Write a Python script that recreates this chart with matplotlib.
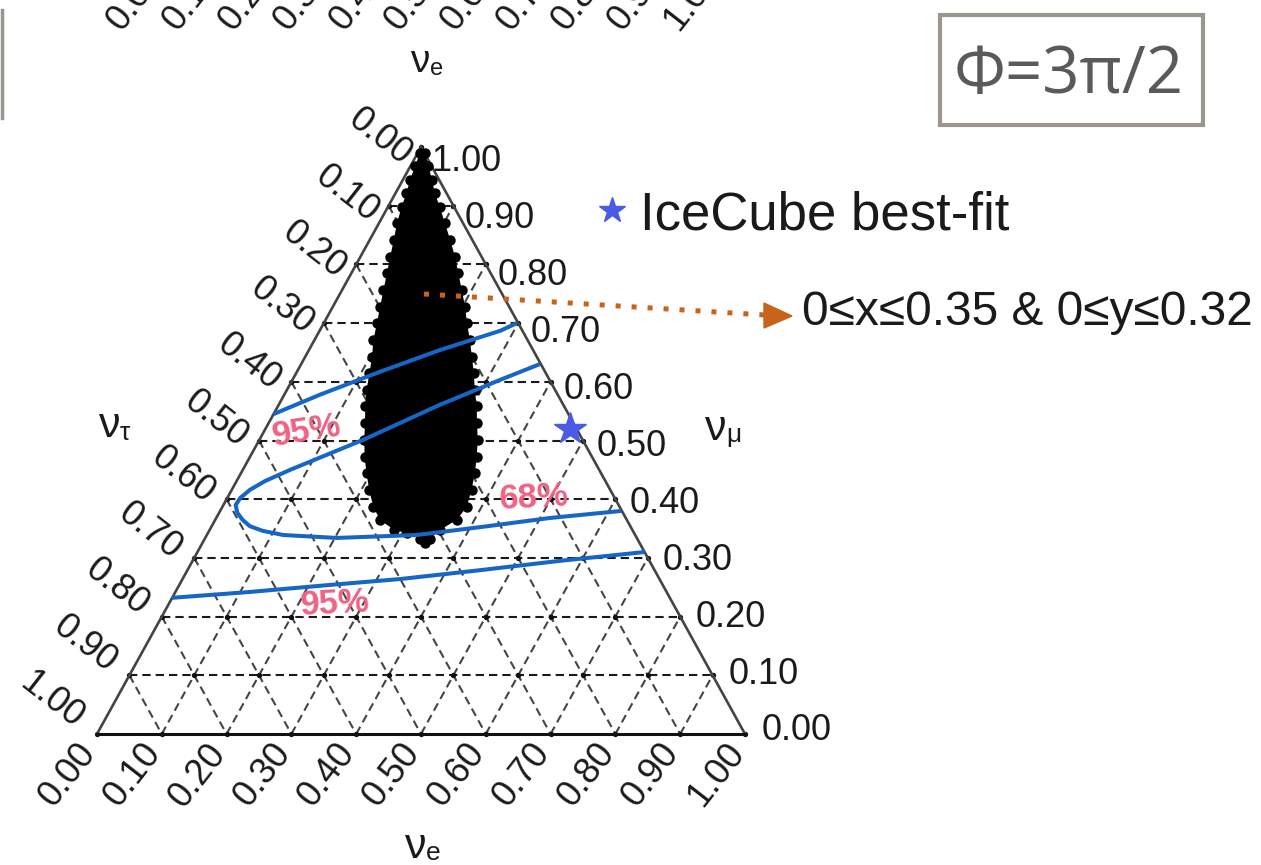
import matplotlib
matplotlib.use("Agg")
import matplotlib.pyplot as plt
from matplotlib.patches import Polygon, Rectangle
import numpy as np

plt.rcParams['font.family'] = ['Liberation Sans', 'DejaVu Sans']

# ---------------- data: flavour fractions (e = nu_e, mu = nu_mu, tau = 1 - e - mu) ----
tick_values = [0.0, 0.1, 0.2, 0.3, 0.4, 0.5, 0.6, 0.7, 0.8, 0.9, 1.0]
tick_labels = ["0.00", "0.10", "0.20", "0.30", "0.40", "0.50",
               "0.60", "0.70", "0.80", "0.90", "1.00"]

# outline of the allowed region of the scan (closed loop)
allowed_e = [0.003, 0.0075, 0.011, 0.017, 0.021, 0.028, 0.037, 0.046, 0.055, 0.064,
             0.073, 0.082, 0.091, 0.103, 0.113, 0.123, 0.135, 0.149, 0.162, 0.177,
             0.194, 0.212, 0.233, 0.254, 0.284, 0.307, 0.332, 0.344,
             0.347, 0.356, 0.373, 0.377, 0.370, 0.361, 0.350, 0.337, 0.322, 0.307,
             0.290, 0.274, 0.257, 0.240, 0.221, 0.204, 0.185, 0.165, 0.146, 0.124,
             0.102, 0.080, 0.061, 0.045, 0.028, 0.011]
allowed_mu = [0.990, 0.967, 0.944, 0.921, 0.898, 0.870, 0.842, 0.813, 0.785, 0.756,
              0.728, 0.700, 0.671, 0.643, 0.615, 0.586, 0.558, 0.529, 0.501, 0.472,
              0.444, 0.416, 0.387, 0.365, 0.348, 0.342, 0.333, 0.325,
              0.333, 0.348, 0.365, 0.387, 0.416, 0.444, 0.472, 0.501, 0.529, 0.558,
              0.586, 0.615, 0.643, 0.671, 0.700, 0.728, 0.756, 0.785, 0.813, 0.842,
              0.870, 0.898, 0.921, 0.944, 0.967, 0.990]

# IceCube confidence contours
cl95_upper_e = [0.000, 0.055, 0.128, 0.202, 0.279, 0.298]
cl95_upper_mu = [0.545, 0.578, 0.617, 0.654, 0.687, 0.700]

cl68_e = [0.368, 0.320, 0.249, 0.160, 0.073, 0.044, 0.028, 0.020, 0.019, 0.028,
          0.042, 0.059, 0.083, 0.118, 0.203, 0.324, 0.419, 0.515, 0.619]
cl68_mu = [0.630, 0.603, 0.561, 0.501, 0.450, 0.431, 0.416, 0.402, 0.390, 0.377,
           0.365, 0.354, 0.346, 0.339, 0.334, 0.339, 0.353, 0.368, 0.380]

cl95_lower_e = [0.000, 0.115, 0.233, 0.336, 0.451, 0.567, 0.690]
cl95_lower_mu = [0.232, 0.242, 0.254, 0.264, 0.279, 0.295, 0.310]

icecube_best_e = 0.47
icecube_best_mu = 0.52

# ---------------- figure & ternary geometry (pixel frame) ----------------
W, H = 1261, 865
fig = plt.figure(figsize=(W / 100, H / 100), dpi=100)
ax = fig.add_axes([0, 0, 1, 1])
ax.set_xlim(0, W)
ax.set_ylim(H, 0)
ax.axis('off')

V_TAU = (97.0, 734.0)    # tau = 1 corner
V_E = (745.0, 734.0)     # e = 1 corner
V_MU = (421.0, 147.0)    # mu = 1 corner


def to_xy(e, mu):
    e = np.asarray(e, float)
    mu = np.asarray(mu, float)
    tau = 1.0 - e - mu
    x = tau * V_TAU[0] + e * V_E[0] + mu * V_MU[0]
    y = tau * V_TAU[1] + e * V_E[1] + mu * V_MU[1]
    return x, y


grid_kw = dict(lw=1.5, zorder=1)
dash = (0, (4.0, 2.4))
for v in tick_values[1:-1]:
    # constant mu (horizontal)
    x, y = to_xy([0, 1 - v], [v, v])
    ax.plot(x, y, color='#1a1a1a', linestyle=dash, **grid_kw)
    # constant e
    x, y = to_xy([v, v], [0, 1 - v])
    ax.plot(x, y, color='#444444', linestyle=dash, **grid_kw)
    # constant tau
    x, y = to_xy([0, 1 - v], [1 - v, 0])
    ax.plot(x, y, color='#444444', linestyle=dash, **grid_kw)

# small dots at the lattice nodes
node_e, node_mu = [], []
for i, a in enumerate(tick_values):
    for b in tick_values[:len(tick_values) - i]:
        node_e.append(a)
        node_mu.append(b)
nx, ny = to_xy(node_e, node_mu)
ax.plot(nx, ny, 'o', ms=2.8, color='#111111', zorder=1.5)

# triangle frame
tx, ty = to_xy([0, 1, 0, 0], [0, 0, 1, 0])
ax.plot(tx[1:], ty[1:], color='#444444', lw=1.9, zorder=2, solid_joinstyle='miter')
ax.plot(tx[:2], ty[:2], color='#111111', lw=2.2, zorder=2)

# allowed region of the scan
bx, by = to_xy(allowed_e, allowed_mu)
ax.fill(bx, by, color='black', zorder=3, lw=0)
ax.plot(bx, by, 'o', ms=6.5, color='black', zorder=3)

# IceCube contours
blue = '#1566c6'
for ce, cm in [(cl95_upper_e, cl95_upper_mu), (cl68_e, cl68_mu), (cl95_lower_e, cl95_lower_mu)]:
    x, y = to_xy(ce, cm)
    ax.plot(x, y, color=blue, lw=2.9, zorder=4, solid_capstyle='butt', solid_joinstyle='round')

pink = '#ee6384'
ax.text(307, 431, "95%", color=pink, fontsize=25, fontweight='bold', ha='center', va='center',
        rotation=9, zorder=5)
ax.text(335, 604, "95%", color=pink, fontsize=25, fontweight='bold', ha='center', va='center',
        rotation=3, zorder=5)
ax.text(534, 498, "68%", color=pink, fontsize=25, fontweight='bold', ha='center', va='center',
        rotation=3, zorder=5)

# IceCube best fit
sx, sy = to_xy(icecube_best_e, icecube_best_mu)
ax.plot(sx, sy, marker='*', ms=24, color='#4a5be6', mec='#4a5be6', zorder=6, ls='none')

# tick labels
tick_fs = 26
for v, lab in zip(tick_values, tick_labels):
    # left axis: tau fraction
    px, py = to_xy(0.0, 1.0 - v)
    ax.text(px - 41 - 4 * v, py - 9.5 - 24.5 * v, lab, fontsize=tick_fs, rotation=-38,
            ha='center', va='center', color='#1a1a1a')
    # right axis: mu fraction
    px, py = to_xy(1.0 - v, v)
    ax.text(px + 52 - 6.3 * v, py - 3 + 17.7 * v, lab, fontsize=tick_fs,
            ha='center', va='center', color='#1a1a1a')
    # bottom axis: e fraction
    px, py = to_xy(v, 0.0)
    ax.text(px - 29, py + 41, lab, fontsize=tick_fs, rotation=52,
            ha='center', va='center', color='#1a1a1a')


def flavour_label(x, y, sub, size, sub_size, dx, dy):
    ax.text(x, y, "ν", fontsize=size, ha='center', va='baseline', color='#1a1a1a')
    ax.text(x + dx, y + dy, sub, fontsize=sub_size, ha='left', va='baseline', color='#1a1a1a')


flavour_label(416, 858, "e", 31, 19, 10, 2)
flavour_label(110, 437, "τ", 31, 19, 10, 3)
flavour_label(716, 440, "μ", 31, 19, 10, 2)
flavour_label(420, 72, "e", 28, 17, 10, 3)

# tick labels of the neighbouring panel, running off the top edge
for k, lab in enumerate(tick_labels):
    ax.text(122 + 55.6 * k, 32, lab, fontsize=26, rotation=52, rotation_mode='anchor',
            ha='left', va='baseline', color='#1a1a1a')
ax.plot([1.5, 1.5], [10, 118], color='#9a958e', lw=2.5)

# legend
ax.plot(612, 210, marker='*', ms=19, color='#4a5be6', ls='none')
ax.text(640, 230, "IceCube best-fit", fontsize=38, ha='left', va='baseline', color='#1a1a1a')

# arrow to the scan-range note
orange = '#c8631c'
ax.plot([424, 765], [294, 315], color=orange, lw=3.6, linestyle=(0, (1, 2.2)),
        solid_capstyle='butt', dash_capstyle='butt', zorder=6)
ax.add_patch(Polygon([(764, 303), (792, 316), (764, 328)], closed=True, color=orange, zorder=6))
ax.text(802, 325, "0≤x≤0.35 & 0≤y≤0.32", fontsize=34.5, ha='left', va='baseline',
        color='#1a1a1a')

# phase box
ax.add_patch(Rectangle((940, 15), 263, 110, fill=True, facecolor='white',
                       edgecolor='#9a958e', lw=3))
ax.text(1069, 93, "Φ=3π/2", fontsize=47, ha='center', va='baseline', color='#5a5a5a',
        family=['Open Sans', 'DejaVu Sans'])

fig.savefig("out.png", dpi=100)
